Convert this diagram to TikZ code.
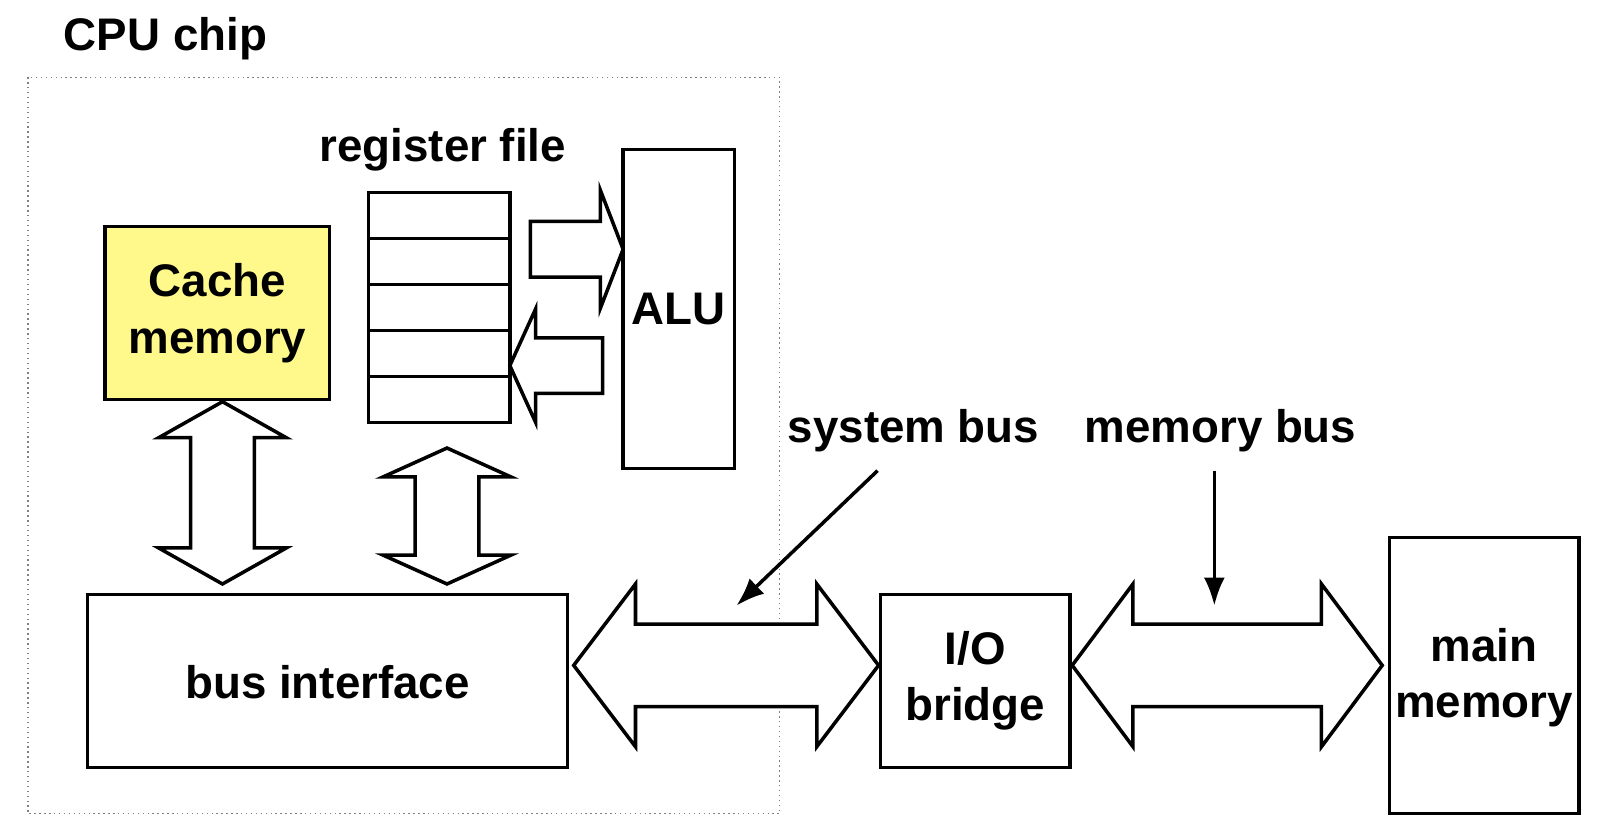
\documentclass[tikz,border=0pt]{standalone}
\usepackage{fontspec}
\setmainfont{Liberation Sans}
\usetikzlibrary{arrows.meta}
% horizontal double arrow: x1, x2, y, head half, shaft half, head length
\newcommand{\hbusarrow}[6]{%
  \draw[line width=1pt,fill=white] (#1,#3) -- (#1+#6,#3-#4) -- (#1+#6,#3-#5) -- (#2-#6,#3-#5) -- (#2-#6,#3-#4)
    -- (#2,#3) -- (#2-#6,#3+#4) -- (#2-#6,#3+#5) -- (#1+#6,#3+#5) -- (#1+#6,#3+#4) -- cycle;}
% horizontal single arrow: tail x, tip x, y, head half, shaft half, head length (signed)
\newcommand{\hsinglearrow}[6]{%
  \draw[line width=1pt,fill=white] (#1,#3-#5) -- (#2-#6,#3-#5) -- (#2-#6,#3-#4) -- (#2,#3)
    -- (#2-#6,#3+#4) -- (#2-#6,#3+#5) -- (#1,#3+#5) -- cycle;}
% vertical double arrow: y1, y2, x, head half, shaft half, head length
\newcommand{\vbusarrow}[6]{%
  \draw[line width=1pt,fill=white] (#3,#1) -- (#3-#4,#1+#6) -- (#3-#5,#1+#6) -- (#3-#5,#2-#6) -- (#3-#4,#2-#6)
    -- (#3,#2) -- (#3+#4,#2-#6) -- (#3+#5,#2-#6) -- (#3+#5,#1+#6) -- (#3+#4,#1+#6) -- cycle;}
\begin{document}
\begin{tikzpicture}[x=0.0103cm,y=-0.0103cm,
    lbl/.style={font=\fontsize{13}{16}\selectfont\bfseries}]
  \useasboundingbox (0,0) rectangle (1568,796);

  % CPU
  \node[lbl,anchor=west] (cpu) at (50,38) {CPU chip};
  \draw[densely dotted,gray] (27,75) rectangle (757,790);

  % Boxen
  \draw[line width=1pt,fill=yellow!45] (102,220) rectangle (320,388);
  \node[lbl,align=center] (cache) at (211,304) {Cache\\memory};
  \draw[line width=1pt] (605,145) rectangle (713,455);
  \node[lbl] (alu) at (659,300) {ALU};
  \draw[line width=1pt] (85,577) rectangle (551,745);
  \node[lbl] (bus) at (318,662) {bus interface};
  \draw[line width=1pt] (855,577) rectangle (1039,745);
  \node[lbl,align=center] (bridge) at (947,661) {I/O\\bridge};
  \draw[line width=1pt] (1349,522) rectangle (1533,790);
  \node[lbl,align=center] (mem) at (1441,658) {main\\memory};

  % Registerdatei
  \node[lbl] (reg) at (430,145) {register file};
  \foreach \i in {0,...,4}
    \draw[line width=1pt] (358,187+44.6*\i) rectangle (495,231.6+44.6*\i);

  % Pfeile
  \hsinglearrow{515}{605}{242}{57}{27}{22}
  \hsinglearrow{585}{495}{355}{55}{27}{-25}
  \vbusarrow{390}{567}{216}{62}{31}{35}
  \vbusarrow{435}{567}{434}{62}{31}{28}
  \hbusarrow{557}{853}{646}{79}{40}{60}
  \hbusarrow{1041}{1342}{646}{79}{40}{59}

  % Beschriftungen
  \node[lbl] (sysbus) at (887,418) {system bus};
  \node[lbl] (membus) at (1185,418) {memory bus};
  \coordinate (sysend) at (715,588);
  \coordinate (memend) at (1179,588);
  \draw[-{Latex[length=8pt,width=6pt]},line width=1pt] (852,457) -- (sysend);
  \draw[-{Latex[length=8pt,width=6pt]},line width=1pt] (1179,457) -- (memend);
\end{tikzpicture}
\end{document}
